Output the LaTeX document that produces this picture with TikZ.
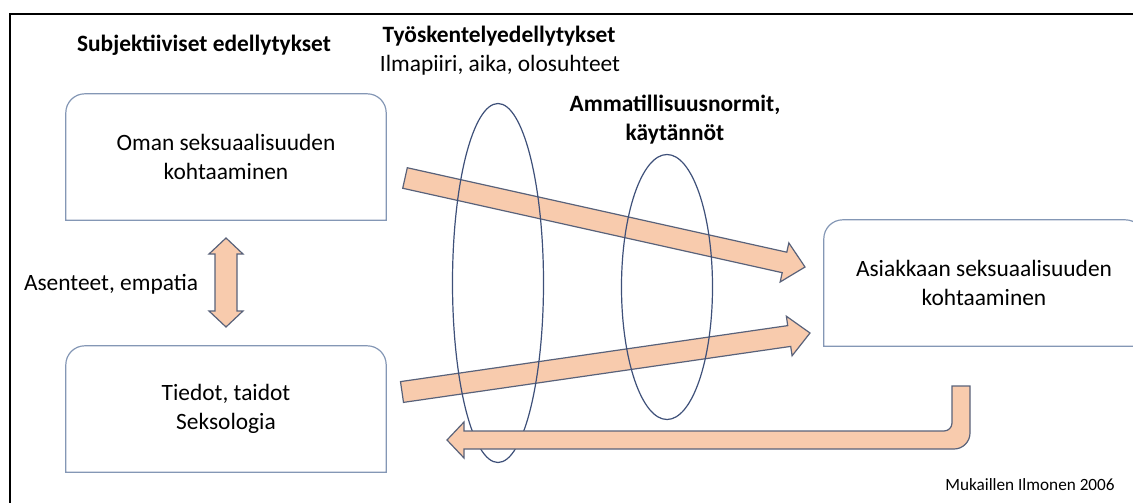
\documentclass[tikz,border=0pt]{standalone}
\usepackage{fontspec}
\setmainfont{Carlito}
\usetikzlibrary{calc,shapes.geometric}

\definecolor{peach}{HTML}{F8CBAD}
\definecolor{arrowline}{HTML}{59627A}
\definecolor{boxline}{HTML}{8497B5}
\definecolor{ringline}{HTML}{3E5079}

\tikzset{
  txt/.style={font={\fontsize{23.4}{28.5}\selectfont}, align=center, inner sep=0pt},
  hdr/.style={font={\fontsize{23.4}{28.5}\selectfont\bfseries}, align=center, inner sep=0pt},
  small/.style={font={\fontsize{17.2}{21}\selectfont}, inner sep=0pt},
  box/.style={txt, minimum width=320pt, minimum height=126pt},
  ring/.style={ellipse, draw=ringline, line width=1.2pt, inner sep=0pt},
  arrowfill/.style={fill=peach, draw=arrowline, line width=1.2pt, line join=miter}
}

% outline with rounded top corners only
\newcommand{\topround}[1]{%
  \draw[boxline, line width=1.2pt] (#1.south west) -- ([yshift=-19pt]#1.north west) arc(180:90:19pt)
    -- ([xshift=-19pt]#1.north east) arc(90:0:19pt) -- (#1.south east) -- cycle;}

% block arrow: from, to, half shaft, half head, head length
\newcommand{\blockarrow}[5]{%
  \path ($(#2)!#5!(#1)$) coordinate (neck);
  \draw[arrowfill] ($(#1)!#3!90:(#2)$) -- ($(neck)!#3!90:(#2)$) -- ($(neck)!#4!90:(#2)$)
    -- (#2) -- ($(neck)!#4!-90:(#2)$) -- ($(neck)!#3!-90:(#2)$) -- ($(#1)!#3!-90:(#2)$) -- cycle;}

\begin{document}
\begin{tikzpicture}[x=1pt, y=-1pt]
    \useasboundingbox (0,0) rectangle (1133,503);
    \clip (0,0) rectangle (1133,503);
    \draw[line width=2.5pt] (10,14) rectangle (1160,530);

    % headings
    \node[hdr, anchor=base] (subj) at (204,52) {Subjektiiviset edellytykset};
    \node[hdr, anchor=base] (tyo) at (499,43) {Työskentelyedellytykset};
    \node[txt, anchor=base] (ilma) at (500,72) {Ilmapiiri, aika, olosuhteet};
    \node[hdr, anchor=base] (amm) at (675,140) {Ammatillisuusnormit,\\käytännöt};

    % boxes
    \node[box] (oma) at (226,157) {Oman seksuaalisuuden\\kohtaaminen};
    \node[box] (tiedot) at (226,409) {Tiedot, taidot\\Seksologia};
    \node[box] (asiakas) at (984,283) {Asiakkaan seksuaalisuuden\\kohtaaminen};
    \topround{oma}
    \topround{tiedot}
    \topround{asiakas}

    \node[txt, anchor=base] (asenteet) at (111,290) {Asenteet, empatia};
    \node[small, anchor=base] (lahde) at (1030,490) {Mukaillen Ilmonen 2006};

    % arrow ends
    \coordinate (dtop) at (226,238);
    \coordinate (dbot) at (226,327);
    \coordinate (a1) at (405,178);
    \coordinate (b1) at (805,267);
    \coordinate (a2) at (402,392);
    \coordinate (b2) at (810,333);
    \coordinate (rstart) at (961,386);
    \coordinate (rend) at (447,440);

    \draw[arrowfill] (dtop) -- ++(17,16) -- ++(-6,0) -- ($(dbot)+(11,-16)$) -- ++(6,0)
      -- (dbot) -- ++(-17,-16) -- ++(6,0) -- ($(dtop)+(-11,16)$) -- ++(-6,0) -- cycle;

    \blockarrow{a1}{b1}{10.5pt}{20pt}{21pt}
    \blockarrow{a2}{b2}{10.5pt}{20pt}{21pt}

    % rings
    \node[ring, minimum width=91pt, minimum height=359pt] (ring1) at (498,283) {};
    \node[ring, minimum width=91pt, minimum height=265pt] (ring2) at (667,287) {};

    \draw[arrowfill] ($(rstart)+(-9,0)$) -- ($(rstart)+(9,0)$) -- ($(rstart |- rend)+(9,-7)$)
      arc(0:-90:16pt) -- ($(rend)+(17,9)$) -- ($(rend)+(17,18)$) -- (rend)
      -- ($(rend)+(17,-18)$) -- ($(rend)+(17,-9)$) -- ($(rstart |- rend)+(-17,-9)$)
      arc(-90:0:8pt) -- cycle;
\end{tikzpicture}
\end{document}
